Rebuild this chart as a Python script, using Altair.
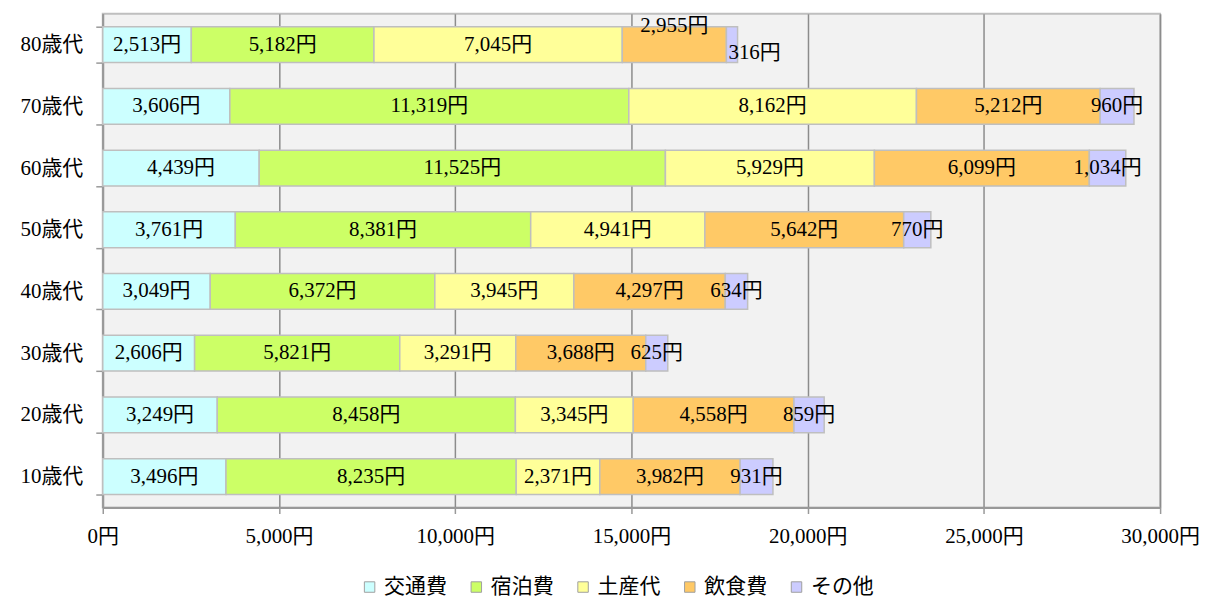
import altair as alt
import pandas as pd

ages = ["10歳代", "20歳代", "30歳代", "40歳代", "50歳代", "60歳代", "70歳代", "80歳代"]
categories = ["交通費", "宿泊費", "土産代", "飲食費", "その他"]
transport = [3496, 3249, 2606, 3049, 3761, 4439, 3606, 2513]
lodging = [8235, 8458, 5821, 6372, 8381, 11525, 11319, 5182]
souvenir = [2371, 3345, 3291, 3945, 4941, 5929, 8162, 7045]
food = [3982, 4558, 3688, 4297, 5642, 6099, 5212, 2955]
other = [931, 859, 625, 634, 770, 1034, 960, 316]
colors = ["#CCFFFF", "#CCFF66", "#FFFF99", "#FFC966", "#CCCCFF"]
x_ticks = [0, 5000, 10000, 15000, 20000, 25000, 30000]

series = [transport, lodging, souvenir, food, other]
rows = []
for i, a in enumerate(ages):
    for j, (c, s) in enumerate(zip(categories, series)):
        rows.append({"age": a, "cat": c, "order": j, "value": s[i]})
df = pd.DataFrame(rows)

FONT = "Liberation Serif, Noto Sans CJK JP"
FS = 21

base = alt.Chart(df).transform_stack(
    stack="value", groupby=["age"], sort=[alt.SortField("order")], as_=["x0", "x1"]
).transform_calculate(
    mid="(datum.x0 + datum.x1) / 2",
    label="format(datum.value, ',') + '円'",
)

yenc = alt.Y(
    "age:N",
    sort=list(reversed(ages)),
    title=None,
    scale=alt.Scale(paddingInner=0.42, paddingOuter=0.21),
    axis=alt.Axis(
        tickBand="extent", tickSize=7, tickColor="#999999", tickWidth=1.5,
        domainColor="#999999", domainWidth=2, labelFont=FONT, labelFontSize=FS,
        labelColor="#000000", labelPadding=13, grid=False,
    ),
)
xscale = alt.Scale(domain=[0, 30000], nice=False)
xaxis = alt.Axis(
    values=x_ticks, labelExpr="format(datum.value, ',') + '円'", grid=True,
    gridColor="#8C8C8C", gridWidth=1.5, tickSize=6, tickColor="#999999",
    tickWidth=1.5, domainColor="#999999", domainWidth=2, labelFont=FONT,
    labelFontSize=FS, labelColor="#000000", labelPadding=12, title=None,
    labelFlush=False, labelOverlap=False,
)

bars = base.mark_bar(stroke="#BFBFBF", strokeWidth=1.5).encode(
    y=yenc,
    x=alt.X("x0:Q", scale=xscale, axis=xaxis),
    x2="x1:Q",
    color=alt.Color(
        "cat:N",
        scale=alt.Scale(domain=categories, range=colors),
        legend=alt.Legend(
            title=None, orient="none", legendX=257, legendY=564,
            direction="horizontal", columns=5, symbolType="square",
            symbolSize=110, symbolStrokeColor="#A0A0A0", symbolStrokeWidth=1,
            labelFont=FONT, labelFontSize=FS, labelColor="#000000",
            columnPadding=19, labelOffset=4, padding=0,
        ),
    ),
)

special = "datum.age == '80歳代' && (datum.cat == '飲食費' || datum.cat == 'その他')"

labels = base.transform_filter("!(" + special + ")").mark_text(
    font=FONT, fontSize=FS, color="#000000", baseline="middle", align="center"
).encode(y=yenc, x=alt.X("mid:Q", scale=xscale, axis=xaxis), text="label:N")

label_food80 = base.transform_filter(
    "datum.age == '80歳代' && datum.cat == '飲食費'"
).mark_text(
    font=FONT, fontSize=FS, color="#000000", baseline="middle", align="center", dy=-19
).encode(y=yenc, x=alt.X("mid:Q", scale=xscale, axis=xaxis), text="label:N")

label_other80 = base.transform_filter(
    "datum.age == '80歳代' && datum.cat == 'その他'"
).mark_text(
    font=FONT, fontSize=FS, color="#000000", baseline="middle", align="left", dx=2, dy=8
).encode(y=yenc, x=alt.X("x0:Q", scale=xscale, axis=xaxis), text="label:N")

chart = alt.layer(bars, labels, label_food80, label_other80).properties(
    width=1060,
    height=495,
    autosize=alt.AutoSizeParams(type="none"),
    padding={"left": 95, "top": 5, "right": 42, "bottom": 94},
).configure_view(fill="#F2F2F2", stroke="#BFBFBF", strokeWidth=2)

chart.save("out.html", embed_options={"renderer": "svg", "actions": False})
